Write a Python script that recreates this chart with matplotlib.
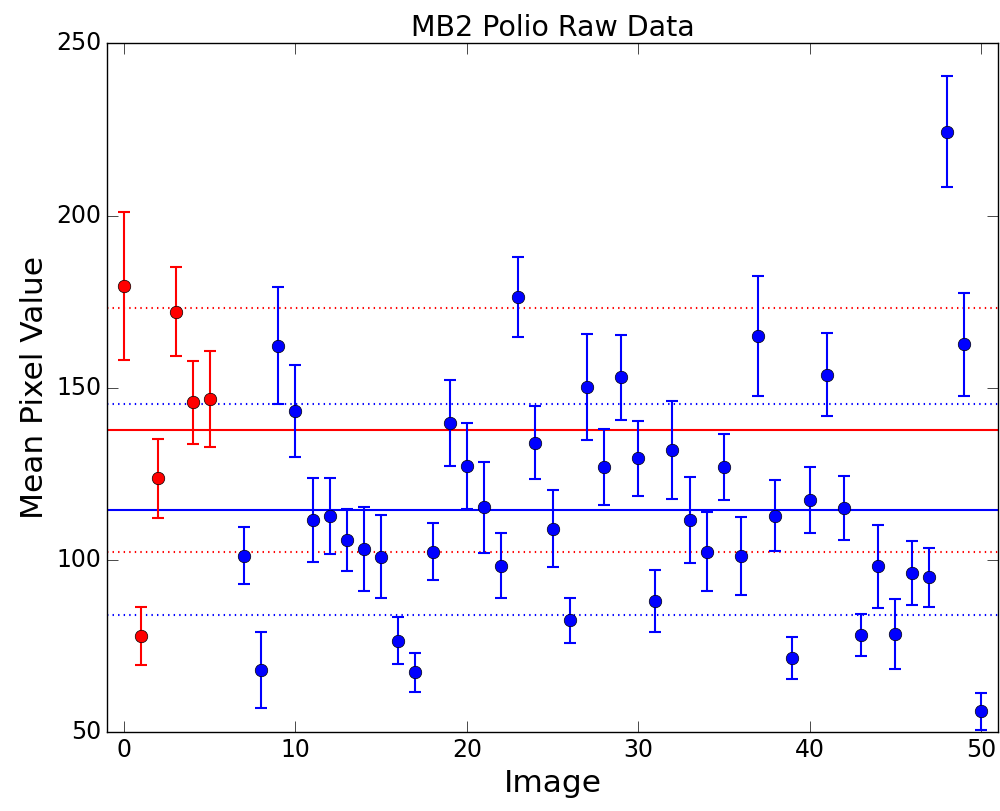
import matplotlib
matplotlib.use("Agg")
import matplotlib.pyplot as plt
import numpy as np

plt.style.use('classic')

# Red group (images 0-5)
red_x = [0, 1, 2, 3, 4, 5]
red_y = [179.6, 77.9, 123.7, 172.1, 145.8, 146.7]
red_err = [21.5, 8.5, 11.5, 13.0, 12.0, 14.0]

# Blue group (images 7-50)
blue_x = list(range(7, 51))
blue_y = [101.3, 68.2, 162.2, 143.3, 111.6, 112.9, 105.7, 103.2, 101.0, 76.6,
          67.4, 102.4, 139.9, 127.4, 115.3, 98.4, 176.3, 134.1, 109.1, 82.5,
          150.2, 127.0, 153.0, 129.5, 88.2, 132.0, 111.6, 102.4, 127.0, 101.2,
          165.1, 112.9, 71.6, 117.5, 153.8, 115.0, 78.3, 98.2, 78.6, 96.2,
          95.0, 224.4, 162.6, 56.1]
blue_err = [8.3, 11.0, 17.0, 13.3, 12.3, 11.0, 9.0, 12.3, 12.1, 6.9,
            5.6, 8.3, 12.5, 12.5, 13.2, 9.5, 11.6, 10.5, 11.2, 6.5,
            15.4, 11.0, 12.2, 11.0, 9.0, 14.3, 12.4, 11.5, 9.6, 11.3,
            17.4, 10.3, 6.0, 9.6, 12.0, 9.3, 6.0, 12.1, 10.1, 9.3,
            8.5, 16.2, 15.0, 5.3]

# Group means and +/- one standard deviation
red_mean, red_lo, red_hi = 137.8, 102.3, 173.3
blue_mean, blue_lo, blue_hi = 114.6, 84.0, 145.3

fig = plt.figure(figsize=(10, 8.11), dpi=100, facecolor='white')
ax = fig.add_axes([0.107, 0.097, 0.891, 0.8496])
ax.set_facecolor('white')

ax.axhline(red_mean, color='red', lw=1.5)
ax.axhline(red_hi, color='red', lw=1.5, ls=':')
ax.axhline(red_lo, color='red', lw=1.5, ls=':')
ax.axhline(blue_mean, color='blue', lw=1.5)
ax.axhline(blue_hi, color='blue', lw=1.5, ls=':')
ax.axhline(blue_lo, color='blue', lw=1.5, ls=':')

ax.errorbar(red_x, red_y, yerr=red_err, fmt='o', color='red', ecolor='red',
            mfc='red', mec='black', ms=9, elinewidth=1.5, capsize=4.3,
            capthick=1.5, zorder=3)
ax.errorbar(blue_x, blue_y, yerr=blue_err, fmt='o', color='blue', ecolor='blue',
            mfc='blue', mec='black', ms=9, elinewidth=1.5, capsize=4.3,
            capthick=1.5, zorder=3)

ax.set_xlim(-1, 51)
ax.set_ylim(50, 250)
ax.set_xticks([0, 10, 20, 30, 40, 50])
ax.set_yticks([50, 100, 150, 200, 250])
ax.tick_params(labelsize=17, top=True, right=True, direction='in', length=8)
ax.set_title('MB2 Polio Raw Data', fontsize=20.5)
ax.set_xlabel('Image', fontsize=22.5)
ax.set_ylabel('Mean Pixel Value', fontsize=22.5)

fig.savefig('out.png', dpi=100, facecolor='white')
